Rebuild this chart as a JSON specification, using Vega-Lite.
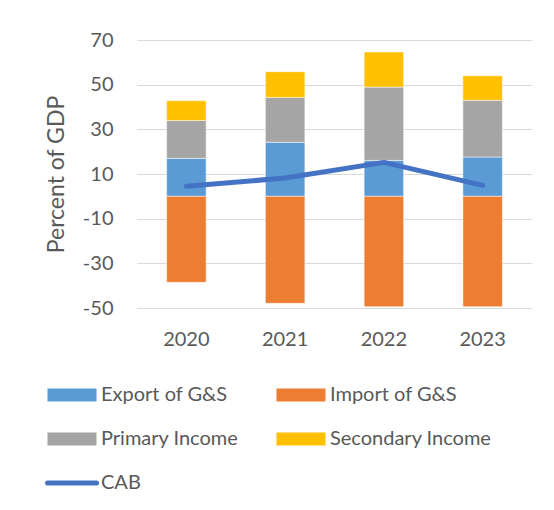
{
  "$schema": "https://vega.github.io/schema/vega-lite/v6.json",
  "width": 395,
  "height": 268,
  "autosize": {"type": "none"},
  "padding": {"left": 137, "top": 40, "right": 22, "bottom": 202},
  "background": "white",
  "datasets": {
    "bars": [
      {"year": "2020", "series": "Export of G&S", "value": 17.0, "ord": 1},
      {"year": "2020", "series": "Import of G&S", "value": -38.5, "ord": 2},
      {"year": "2020", "series": "Primary Income", "value": 17.0, "ord": 3},
      {"year": "2020", "series": "Secondary Income", "value": 8.8, "ord": 4},
      {"year": "2021", "series": "Export of G&S", "value": 24.2, "ord": 1},
      {"year": "2021", "series": "Import of G&S", "value": -47.9, "ord": 2},
      {"year": "2021", "series": "Primary Income", "value": 20.1, "ord": 3},
      {"year": "2021", "series": "Secondary Income", "value": 11.5, "ord": 4},
      {"year": "2022", "series": "Export of G&S", "value": 16.1, "ord": 1},
      {"year": "2022", "series": "Import of G&S", "value": -49.4, "ord": 2},
      {"year": "2022", "series": "Primary Income", "value": 32.8, "ord": 3},
      {"year": "2022", "series": "Secondary Income", "value": 15.7, "ord": 4},
      {"year": "2023", "series": "Export of G&S", "value": 17.6, "ord": 1},
      {"year": "2023", "series": "Import of G&S", "value": -49.4, "ord": 2},
      {"year": "2023", "series": "Primary Income", "value": 25.4, "ord": 3},
      {"year": "2023", "series": "Secondary Income", "value": 11.0, "ord": 4}
    ],
    "cab": [
      {"year": "2020", "series": "CAB", "value": 4.5},
      {"year": "2021", "series": "CAB", "value": 8.2},
      {"year": "2022", "series": "CAB", "value": 15.2},
      {"year": "2023", "series": "CAB", "value": 4.9}
    ]
  },
  "config": {
    "font": "Lato",
    "view": {"stroke": null},
    "axis": {
      "labelFont": "Lato",
      "labelFontSize": 20,
      "labelColor": "#595959",
      "titleFont": "Lato",
      "titleFontSize": 23,
      "titleColor": "#595959",
      "titleFontWeight": "normal",
      "domain": false,
      "ticks": false
    },
    "legend": {
      "labelFont": "Lato",
      "labelFontSize": 20,
      "labelColor": "#595959"
    }
  },
  "layer": [
    {
      "data": {"name": "bars"},
      "mark": {"type": "bar", "stroke": "white", "strokeWidth": 0.5},
      "encoding": {
        "x": {
          "field": "year",
          "type": "nominal",
          "scale": {"paddingInner": 0.6, "paddingOuter": 0.3},
          "axis": {"title": null, "labelAngle": 0, "labelPadding": 21, "grid": false}
        },
        "y": {
          "field": "value",
          "type": "quantitative",
          "stack": "zero",
          "scale": {"domain": [-50, 70], "nice": false},
          "axis": {
            "title": "Percent of GDP",
            "values": [-50, -30, -10, 10, 30, 50, 70],
            "labelExpr": "'' + datum.value",
            "grid": true,
            "gridColor": "#D9D9D9",
            "gridWidth": 1,
            "labelPadding": 24,
            "titlePadding": 14
          }
        },
        "order": {"field": "ord"},
        "color": {
          "field": "series",
          "type": "nominal",
          "scale": {
            "domain": ["Export of G&S", "Import of G&S", "Primary Income", "Secondary Income", "CAB"],
            "range": ["#5B9BD5", "#ED7D31", "#A5A5A5", "#FFC000", "#4472C4"]
          },
          "legend": {
            "title": null,
            "orient": "none",
            "legendX": -75,
            "legendY": 345,
            "columns": 2,
            "direction": "horizontal",
            "symbolSize": 2401,
            "symbolType": {"expr": "datum.value === 'CAB' ? 'stroke' : 'M-1,-0.27H1V0.27H-1Z'"},
            "symbolFillColor": {"expr": "datum.value === 'CAB' ? 'transparent' : scale('color', datum.value)"},
            "symbolStrokeColor": {"expr": "datum.value === 'CAB' ? '#4472C4' : 'transparent'"},
            "symbolStrokeWidth": {"expr": "datum.value === 'CAB' ? 5 : 0"},
            "symbolOpacity": 1,
            "columnPadding": 37,
            "rowPadding": 24,
            "labelOffset": 19,
            "labelLimit": 400,
            "padding": 0,
            "encode": {
              "symbols": {
                "update": {
                  "shape": {"signal": "datum.value === 'CAB' ? 'stroke' : 'M-1,-0.27H1V0.27H-1Z'"},
                  "fill": {"signal": "datum.value === 'CAB' ? 'transparent' : scale('color', datum.value)"},
                  "stroke": {"signal": "datum.value === 'CAB' ? '#4472C4' : 'transparent'"},
                  "strokeWidth": {"signal": "datum.value === 'CAB' ? 5 : 0"},
                  "strokeCap": {"value": "round"},
                  "opacity": {"value": 1}
                }
              }
            }
          }
        }
      }
    },
    {
      "mark": {"type": "rule", "color": "#D9D9D9", "strokeWidth": 1},
      "encoding": {"y": {"datum": 0}}
    },
    {
      "data": {"name": "cab"},
      "mark": {"type": "line", "strokeWidth": 5, "strokeCap": "round", "strokeJoin": "round"},
      "encoding": {
        "x": {"field": "year", "type": "nominal"},
        "y": {"field": "value", "type": "quantitative"},
        "color": {"field": "series", "type": "nominal"}
      }
    }
  ]
}
